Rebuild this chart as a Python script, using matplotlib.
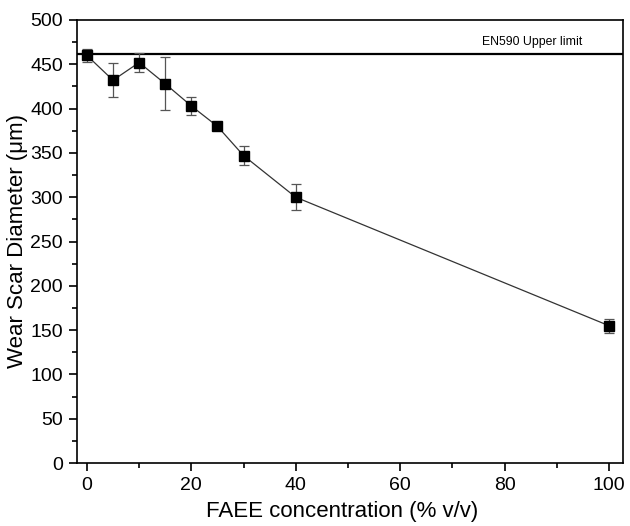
import matplotlib
matplotlib.use("Agg")
import matplotlib.pyplot as plt
from matplotlib.ticker import MultipleLocator

plt.rcParams['font.family'] = ['Liberation Sans', 'DejaVu Sans']

conc = [0, 5, 10, 15, 20, 25, 30, 40, 100]
wsd = [460, 432, 452, 428, 403, 380, 347, 300, 155]
err = [7, 19, 11, 30, 10, 3, 11, 15, 8]
limit_value = 462
limit_label = "EN590 Upper limit"

fig = plt.figure(figsize=(6.3, 5.26), dpi=100)
ax = fig.add_axes([77/630, 1 - 463/526, (623-77)/630, (463-20)/526])

ax.errorbar(conc, wsd, yerr=err, fmt='-', color='#333333', lw=0.9,
            ecolor='#555555', elinewidth=0.9, capsize=3.5, capthick=0.9,
            marker='s', markersize=7.5, markerfacecolor='black',
            markeredgecolor='black', zorder=3)
ax.axhline(limit_value, color='black', lw=1.6, zorder=2)
ax.text(94.8, limit_value + 6, limit_label,
        ha='right', va='bottom', fontsize=8.8)

ax.set_xlim(-1.9, 102.7)
ax.set_ylim(0, 500)
ax.xaxis.set_major_locator(MultipleLocator(20))
ax.xaxis.set_minor_locator(MultipleLocator(10))
ax.yaxis.set_major_locator(MultipleLocator(50))
ax.yaxis.set_minor_locator(MultipleLocator(25))
ax.tick_params(which='both', direction='out', labelsize=14, width=1.2)
ax.tick_params(which='major', length=6, pad=4)
ax.tick_params(which='minor', length=3.5)
for s in ax.spines.values():
    s.set_linewidth(1.2)

ax.set_xlabel('FAEE concentration (% v/v)', fontsize=16, labelpad=6)
ax.xaxis.set_label_coords(0.485, -0.085)
ax.set_ylabel('Wear Scar Diameter (\u03bcm)', fontsize=16, labelpad=2)

fig.savefig('out.png', dpi=100)
